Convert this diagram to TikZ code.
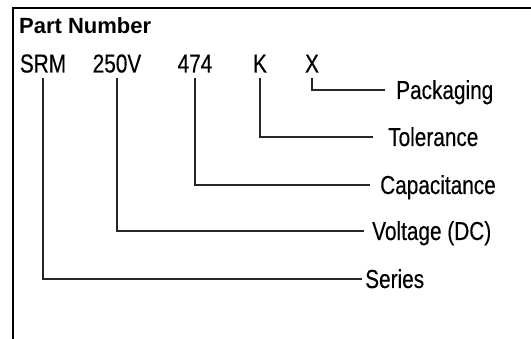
\documentclass[tikz,border=0pt]{standalone}
\usepackage{fontspec}
\setmainfont{Liberation Sans}[FakeStretch=0.8,FakeBold=0.3]
\newfontfamily\titlefont{Liberation Sans}
\begin{document}
\begin{tikzpicture}[x=1pt,y=-1pt,
  frame/.style={line width=2.2pt,black},
  code/.style={anchor=base,inner sep=0pt,font=\fontsize{26}{29}\selectfont},
  lbl/.style={anchor=west,inner sep=0pt,text height=18pt,text depth=0pt,font=\fontsize{26}{29}\selectfont},
  conn/.style={line width=1.3pt,black!85,shorten <=5pt}]
\useasboundingbox (0,0) rectangle (531,339);
\draw[frame] (13,339) -- (13,8) -- (531,8);
\node[anchor=base west,inner sep=0pt,font=\titlefont\fontsize{22}{25}\selectfont\bfseries] (title) at (19,33.5) {Part Number};
\node[code] (srm) at (43,72.5) {SRM};
\node[code] (volt) at (117,72.5) {250V};
\node[code] (cap) at (195,72.5) {474};
\node[code] (tol) at (260,72.5) {K};
\node[code] (pack) at (312,72.5) {X};
\node[lbl] (lpack) at (396,90) {Packaging};
\node[lbl] (ltol) at (388,137) {Tolerance};
\node[lbl] (lcap) at (380,185) {Capacitance};
\node[lbl] (lvolt) at (372,231) {Voltage (DC)};
\node[lbl] (lser) at (365,279) {Series};
\draw[conn,shorten >=11pt] (pack.south) |- (lpack.west);
\draw[conn,shorten >=15pt] (tol.south) |- (ltol.west);
\draw[conn,shorten >=10pt] (cap.south) |- (lcap.west);
\draw[conn,shorten >=8pt] (volt.south) |- (lvolt.west);
\draw[conn,shorten >=3pt] (srm.south) |- (lser.west);
\end{tikzpicture}
\end{document}
